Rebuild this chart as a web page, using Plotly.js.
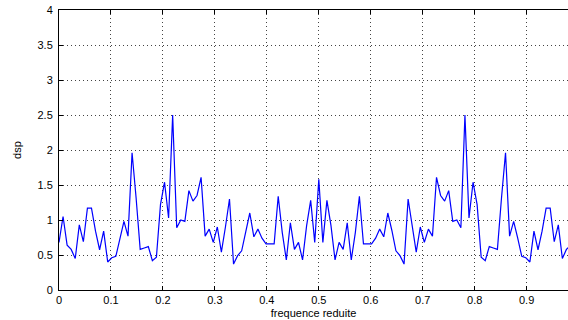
<!DOCTYPE html>
<html>
<head>
<meta charset="utf-8">
<script src="https://cdn.plot.ly/plotly-3.0.1.min.js"></script>
<style>
  html, body { margin: 0; padding: 0; background: #fff; }
  #chart { width: 568px; height: 320px; }
</style>
</head>
<body>
<div id="chart"></div>
<script>
// Power spectral density of a 128-point real signal, reduced frequency k/128
const nPoints = 128;
const freqStart = 0;
const freqStep = 1 / nPoints;

const dsp = [
  0.68, 1.05, 0.64, 0.58, 0.45, 0.93, 0.69, 1.17, 1.17, 0.84,
  0.575, 0.84, 0.40, 0.46, 0.48, 0.74, 0.98, 0.77, 1.96, 1.31,
  0.58, 0.60, 0.62, 0.42, 0.47, 1.22, 1.54, 1.03, 2.50, 0.89,
  1.00, 0.98, 1.42, 1.27, 1.35, 1.61, 0.77, 0.87, 0.68, 0.90,
  0.54, 0.90, 1.30, 0.37, 0.49, 0.56, 0.85, 1.10, 0.76, 0.87,
  0.74, 0.66, 0.66, 0.66, 1.34, 0.82, 0.43, 0.96, 0.58, 0.68,
  0.43, 0.92, 1.28, 0.68, 1.58, 0.68, 1.28, 0.92, 0.43, 0.68,
  0.58, 0.96, 0.43, 0.82, 1.34, 0.66, 0.66, 0.66, 0.74, 0.87,
  0.76, 1.10, 0.85, 0.56, 0.49, 0.37, 1.30, 0.90, 0.54, 0.90,
  0.68, 0.87, 0.77, 1.61, 1.35, 1.27, 1.42, 0.98, 1.00, 0.89,
  2.50, 1.03, 1.54, 1.22, 0.47, 0.42, 0.62, 0.60, 0.58, 1.31,
  1.96, 0.77, 0.98, 0.74, 0.48, 0.46, 0.40, 0.84, 0.575, 0.84,
  1.17, 1.17, 0.69, 0.93, 0.45, 0.58, 0.64, 1.05
];

const xTicks = [0, 0.1, 0.2, 0.3, 0.4, 0.5, 0.6, 0.7, 0.8, 0.9];
const xTickText = ['0', '0.1', '0.2', '0.3', '0.4', '0.5', '0.6', '0.7', '0.8', '0.9'];
const yTicks = [0, 0.5, 1, 1.5, 2, 2.5, 3, 3.5, 4];
const yTickText = ['0', '0.5', '1', '1.5', '2', '2.5', '3', '3.5', '4'];

const trace = {
  type: 'scatter',
  mode: 'lines',
  y: dsp,
  x0: freqStart,
  dx: freqStep,
  line: { color: '#0000ff', width: 1.2 },
  hoverinfo: 'skip'
};

const font = { family: 'Liberation Sans, Arial, sans-serif', size: 11, color: '#000' };

const layout = {
  width: 568,
  height: 320,
  margin: { l: 59, r: 0, t: 10, b: 30 },
  paper_bgcolor: '#fff',
  plot_bgcolor: '#fff',
  showlegend: false,
  font: font,
  xaxis: {
    range: [0, 0.9796],
    tickmode: 'array',
    tickvals: xTicks,
    ticktext: xTickText,
    ticks: 'inside',
    ticklen: 4,
    tickcolor: '#000',
    showline: true,
    linecolor: '#000',
    linewidth: 1,
    mirror: 'ticks',
    showgrid: true,
    gridcolor: '#444',
    griddash: '1px,3px',
    gridwidth: 1,
    zeroline: false,
    tickfont: font,
    title: { text: 'frequence reduite', font: font, standoff: 4 },
    automargin: false
  },
  yaxis: {
    range: [0, 4],
    tickmode: 'array',
    tickvals: yTicks,
    ticktext: yTickText,
    ticks: 'inside',
    ticklen: 4,
    tickcolor: '#000',
    showline: true,
    linecolor: '#000',
    linewidth: 1,
    showgrid: true,
    gridcolor: '#444',
    griddash: '1px,3px',
    gridwidth: 1,
    zeroline: false,
    tickfont: font,
    ticklabelstandoff: 3,
    title: { text: 'dsp', font: font, standoff: 13 },
    automargin: false
  }
};

Plotly.newPlot('chart', [trace], layout, { staticPlot: true, displayModeBar: false });
</script>
</body>
</html>
